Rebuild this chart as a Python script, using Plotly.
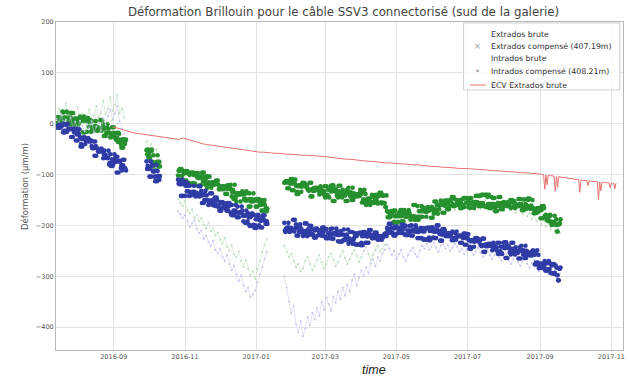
import pandas as pd
import plotly.graph_objects as go

# Start date of each acquisition period
period_starts = ["2016-07-14", "2016-09-29", "2016-10-26", "2017-01-25", "2017-04-23"]

# Extrados compensé (407.19m): midnight readings, one per day, per period
ext_comp = [
    [0, 2, 12, 12, 6, 24, 22, 0, 12, 10,
     6, 4, 12, -1, 21, -2, 7, 10, 6, 1,
     14, 8, 7, 6, -17, 7, -16, 11, 4, -6,
     5, -14, -10, -7, -5, -14, -7, -11, -12, 7,
     -1, -10, -24, -7, -18, -18, -27, -19, -25, -7,
     -20, -32, -28, -18, -36, -40, -31, -47, -31, -34],
    [-52, -51, -60, -67, -54, -75, -62, -83, -86, -79, -84, -75],
    [-102, -93, -92, -89, -110, -98, -97, -112, -93, -116,
     -101, -118, -97, -96, -117, -121, -104, -97, -106, -107,
     -120, -103, -96, -113, -107, -126, -115, -104, -119, -116,
     -119, -120, -115, -116, -112, -129, -126, -129, -124, -123,
     -124, -123, -138, -128, -121, -120, -143, -130, -135, -148,
     -153, -138, -137, -139, -138, -133, -136, -139, -148, -151,
     -150, -137, -163, -148, -153, -152, -149, -150, -163, -148,
     -155, -160, -158, -171, -150, -167, -172],
    [-116, -114, -115, -113, -127, -118, -110, -109, -131, -117,
     -122, -134, -138, -123, -121, -124, -122, -116, -119, -121,
     -129, -132, -130, -116, -143, -127, -132, -130, -126, -127,
     -139, -123, -130, -134, -133, -145, -123, -140, -144, -130,
     -133, -133, -121, -152, -128, -141, -145, -133, -122, -138,
     -130, -137, -141, -137, -152, -126, -137, -135, -143, -150,
     -138, -142, -143, -139, -142, -130, -138, -133, -155, -149,
     -160, -154, -156, -147, -153, -140, -144, -156, -141, -151,
     -157, -142, -156, -136, -155, -141, -156, -164],
    [-172, -174, -184, -183, -177, -195, -193, -171, -182, -180,
     -176, -174, -182, -170, -192, -170, -179, -183, -179, -175,
     -189, -183, -182, -182, -160, -184, -162, -189, -183, -172,
     -183, -165, -168, -171, -173, -164, -171, -167, -166, -185,
     -177, -168, -153, -171, -160, -159, -151, -160, -155, -175,
     -162, -151, -157, -168, -151, -149, -158, -144, -162, -160,
     -156, -160, -154, -150, -166, -148, -164, -146, -146, -156,
     -154, -166, -146, -156, -158, -162, -142, -154, -156, -142,
     -162, -140, -156, -140, -162, -164, -144, -140, -158, -166,
     -158, -158, -146, -164, -172, -156, -162, -144, -156, -168,
     -154, -158, -156, -156, -162, -162, -166, -150, -154, -152,
     -158, -160, -160, -162, -148, -158, -167, -170, -149, -164,
     -161, -150, -147, -164, -167, -166, -169, -176, -175, -174,
     -166, -166, -170, -186, -162, -181, -179, -183, -189, -191,
     -181, -199, -195, -193, -197, -188, -212, -198, -196],
]

# Extrados compensé (407.19m): noon readings, one per day, per period
ext_comp_noon = [
    [12, 12, 6, 0, 2, 0, 12, 10, 24, 22,
     12, -1, 21, 6, 4, 10, 6, 1, -2, 7,
     7, 6, -17, 14, 8, 11, 4, -6, 7, -16,
     -10, -7, -5, 5, -14, -11, -12, 7, -14, -7,
     -24, -7, -18, -1, -10, -19, -25, -7, -18, -27,
     -28, -18, -36, -20, -32, -47, -31, -34, -40, -31],
    [-60, -67, -54, -52, -51, -83, -86, -79, -75, -62, -75, -84],
    [-92, -89, -110, -102, -93, -112, -93, -116, -98, -97,
     -97, -96, -117, -101, -118, -97, -106, -107, -121, -104,
     -96, -113, -107, -120, -103, -104, -119, -116, -126, -115,
     -115, -116, -112, -119, -120, -129, -124, -123, -129, -126,
     -138, -128, -121, -124, -123, -130, -135, -148, -120, -143,
     -137, -139, -138, -153, -138, -139, -148, -151, -133, -136,
     -163, -148, -153, -150, -137, -150, -163, -148, -152, -149,
     -158, -171, -150, -155, -160, -172, -167],
    [-115, -113, -127, -116, -114, -109, -131, -117, -118, -110,
     -138, -123, -121, -122, -134, -116, -119, -121, -124, -122,
     -130, -116, -143, -129, -132, -130, -126, -127, -127, -132,
     -130, -134, -133, -139, -123, -140, -144, -130, -145, -123,
     -121, -152, -128, -133, -133, -133, -122, -138, -141, -145,
     -141, -137, -152, -130, -137, -135, -143, -150, -126, -137,
     -143, -139, -142, -138, -142, -133, -155, -149, -130, -138,
     -156, -147, -153, -160, -154, -156, -141, -151, -140, -144,
     -156, -136, -155, -157, -142, -156, -164, -141],
    [-184, -183, -177, -172, -174, -171, -182, -180, -195, -193,
     -182, -170, -192, -176, -174, -183, -179, -175, -170, -179,
     -182, -182, -160, -189, -183, -189, -183, -172, -184, -162,
     -168, -171, -173, -183, -165, -167, -166, -185, -164, -171,
     -153, -171, -160, -177, -168, -160, -155, -175, -159, -151,
     -157, -168, -151, -162, -151, -144, -162, -160, -149, -158,
     -154, -150, -166, -156, -160, -146, -146, -156, -148, -164,
     -146, -156, -158, -154, -166, -154, -156, -142, -162, -142,
     -156, -140, -162, -162, -140, -140, -158, -166, -164, -144,
     -146, -164, -172, -158, -158, -144, -156, -168, -156, -162,
     -156, -156, -162, -154, -158, -150, -154, -152, -162, -166,
     -160, -162, -148, -158, -160, -170, -149, -164, -158, -167,
     -147, -164, -167, -161, -150, -176, -175, -174, -166, -169,
     -170, -186, -162, -166, -166, -183, -189, -191, -181, -179,
     -195, -193, -197, -181, -199, -212, -198, -196, -188],
]

# Intrados compensé (408.21m): midnight readings, one per day, per period
int_comp = [
    [-7, -4, -7, -8, -2, -3, 0, -17, -14, -16,
     -11, -10, -11, -10, -26, -17, -11, -10, -33, -21,
     -26, -40, -45, -30, -30, -33, -33, -28, -31, -35,
     -44, -48, -48, -35, -63, -49, -55, -54, -52, -54,
     -68, -53, -61, -67, -67, -80, -60, -77, -83, -70,
     -74, -75, -65, -96, -73, -87, -92, -82, -71, -89],
    [-74, -83, -89, -88, -104, -81, -93, -94, -104, -113, -103, -110],
    [-110, -117, -118, -119, -142, -119, -142, -115, -122, -133,
     -122, -141, -138, -135, -134, -143, -136, -141, -142, -123,
     -132, -141, -156, -139, -150, -151, -160, -151, -156, -137,
     -150, -161, -156, -145, -162, -165, -156, -171, -154, -157,
     -162, -159, -166, -171, -156, -175, -160, -179, -180, -171,
     -174, -163, -184, -175, -174, -171, -192, -181, -180, -195,
     -176, -199, -184, -201, -180, -179, -200, -205, -188, -181,
     -190, -191, -204, -187, -180, -197, -192],
    [-195, -213, -210, -206, -204, -212, -205, -209, -209, -189,
     -198, -206, -220, -202, -213, -213, -221, -211, -216, -196,
     -208, -219, -213, -201, -217, -220, -210, -224, -206, -209,
     -213, -209, -215, -220, -204, -222, -207, -225, -225, -215,
     -218, -206, -226, -216, -215, -211, -231, -219, -218, -232,
     -218, -208, -229, -219, -223, -236, -226, -231, -213, -230,
     -215, -237, -221, -238, -216, -214, -234, -239, -221, -213,
     -221, -222, -234, -216, -209, -225, -219, -225, -220, -214,
     -228, -224, -227, -227, -221, -221, -218, -216],
    [-205, -215, -209, -197, -214, -216, -206, -220, -202, -204,
     -208, -205, -211, -215, -199, -217, -201, -219, -219, -210,
     -212, -200, -220, -210, -208, -205, -225, -213, -211, -225,
     -205, -227, -212, -228, -206, -204, -224, -229, -211, -204,
     -212, -213, -225, -208, -200, -217, -211, -230, -218, -207,
     -221, -218, -220, -221, -215, -216, -212, -229, -225, -228,
     -222, -221, -221, -220, -234, -225, -217, -216, -238, -225,
     -229, -242, -246, -231, -229, -232, -230, -225, -227, -230,
     -238, -241, -239, -226, -252, -237, -241, -240, -236, -237,
     -249, -234, -240, -245, -243, -256, -234, -251, -255, -242,
     -244, -245, -233, -264, -240, -253, -257, -246, -234, -251,
     -243, -250, -254, -251, -265, -240, -250, -249, -257, -264,
     -252, -257, -258, -256, -259, -249, -258, -254, -277, -273,
     -284, -280, -283, -275, -282, -270, -275, -289, -274, -286,
     -293, -279, -294, -276, -295, -283, -298, -308, -285],
]

# Intrados compensé (408.21m): noon readings, one per day, per period
int_comp_noon = [
    [-7, -8, -2, -7, -4, -17, -14, -16, -3, 0,
     -11, -10, -26, -11, -10, -10, -33, -21, -17, -11,
     -45, -30, -30, -26, -40, -28, -31, -35, -33, -33,
     -48, -35, -63, -44, -48, -54, -52, -54, -49, -55,
     -61, -67, -67, -68, -53, -77, -83, -70, -80, -60,
     -65, -96, -73, -74, -75, -82, -71, -89, -87, -92],
    [-89, -88, -104, -74, -83, -94, -104, -113, -81, -93, -110, -103],
    [-118, -119, -142, -110, -117, -115, -122, -133, -119, -142,
     -138, -135, -134, -122, -141, -141, -142, -123, -143, -136,
     -156, -139, -150, -132, -141, -151, -156, -137, -151, -160,
     -156, -145, -162, -150, -161, -171, -154, -157, -165, -156,
     -166, -171, -156, -162, -159, -179, -180, -171, -175, -160,
     -184, -175, -174, -174, -163, -181, -180, -195, -171, -192,
     -184, -201, -180, -176, -199, -205, -188, -181, -179, -200,
     -204, -187, -180, -190, -191, -192, -197],
    [-210, -206, -204, -195, -213, -209, -209, -189, -212, -205,
     -220, -202, -213, -198, -206, -211, -216, -196, -213, -221,
     -213, -201, -217, -208, -219, -224, -206, -209, -220, -210,
     -215, -220, -204, -213, -209, -225, -225, -215, -222, -207,
     -226, -216, -215, -218, -206, -219, -218, -232, -211, -231,
     -229, -219, -223, -218, -208, -231, -213, -230, -236, -226,
     -221, -238, -216, -215, -237, -239, -221, -213, -214, -234,
     -234, -216, -209, -221, -222, -225, -220, -214, -225, -219,
     -227, -227, -221, -228, -224, -218, -216, -221],
    [-209, -197, -214, -205, -215, -220, -202, -204, -216, -206,
     -211, -215, -199, -208, -205, -219, -219, -210, -217, -201,
     -220, -210, -208, -212, -200, -213, -211, -225, -205, -225,
     -212, -228, -206, -205, -227, -229, -211, -204, -204, -224,
     -225, -208, -200, -212, -213, -230, -218, -207, -217, -211,
     -220, -221, -215, -221, -218, -229, -225, -228, -216, -212,
     -221, -220, -234, -222, -221, -216, -238, -225, -225, -217,
     -246, -231, -229, -229, -242, -225, -227, -230, -232, -230,
     -239, -226, -252, -238, -241, -240, -236, -237, -237, -241,
     -240, -245, -243, -249, -234, -251, -255, -242, -256, -234,
     -233, -264, -240, -244, -245, -246, -234, -251, -253, -257,
     -254, -251, -265, -243, -250, -249, -257, -264, -240, -250,
     -258, -256, -259, -252, -257, -254, -277, -273, -249, -258,
     -283, -275, -282, -284, -280, -289, -274, -286, -270, -275,
     -294, -276, -295, -293, -279, -298, -308, -285, -283],
]

# Extrados brute, one value every 2 days, per period
ext_raw = [
    [15, 30, 8, 22, 40, 12, 25, 5, 18, 32, 10, 20, 0, 14, 28,
     6, 16, 35, 12, 22, 45, 18, 30, 52, 25, 38, 57, 20, 30, 12],
    [-35, -48, -40, -55, -50, -62],
    [-148, -156, -162, -152, -170, -176, -168, -185, -180, -192,
     -186, -198, -206, -194, -212, -205, -220, -214, -228, -236,
     -225, -242, -250, -238, -256, -262, -251, -270, -282, -268,
     -285, -298, -290, -305, -286, -270, -252, -238, -226],
    [-240, -252, -262, -255, -270, -282, -276, -290, -284, -270,
     -262, -276, -288, -280, -268, -258, -272, -284, -276, -262,
     -255, -268, -280, -272, -260, -250, -264, -276, -266, -255,
     -248, -260, -272, -262, -250, -242, -256, -268, -258, -248,
     -240, -252, -246, -238],
    [-200, -188, -210, -195, -182, -205, -190, -178, -198, -185,
     -175, -192, -180, -170, -188, -176, -165, -182, -172, -160,
     -178, -168, -158, -175, -165, -155, -172, -162, -152, -170,
     -160, -150, -168, -158, -148, -165, -155, -145, -162, -152,
     -168, -158, -150, -165, -155, -170, -160, -152, -168, -158,
     -172, -162, -155, -170, -160, -175, -165, -158, -178, -168,
     -182, -175, -188, -180, -192, -185, -198, -190, -202, -196,
     -208, -200, -212, -205, -215],
]

# Intrados brute, one value every 2 days, per period
int_raw = [
    [10, 2, 18, -5, 8, 0, 12, -8, 4, -12, 6, -4, -15, 0, -10,
     5, -18, -6, 2, -14, 10, -2, 15, 28, 8, 20, 35, 5, -10, -20],
    [-70, -82, -75, -90, -85, -98],
    [-172, -178, -185, -180, -192, -203, -196, -190, -207, -215,
     -210, -226, -220, -232, -241, -230, -248, -255, -246, -262,
     -270, -258, -276, -288, -279, -296, -310, -298, -318, -330,
     -322, -341, -336, -328, -312, -296, -282, -266, -252],
    [-300, -322, -350, -372, -358, -395, -410, -388, -418, -402,
     -380, -396, -372, -385, -362, -378, -350, -366, -342, -355,
     -368, -340, -352, -330, -345, -322, -338, -316, -330, -308,
     -296, -318, -302, -288, -300, -282, -294, -275, -266, -280,
     -262, -270, -255, -248],
    [-238, -246, -258, -250, -266, -256, -248, -262, -270, -258,
     -250, -244, -256, -262, -250, -240, -246, -236, -248, -242,
     -234, -244, -252, -240, -236, -246, -238, -250, -244, -236,
     -242, -252, -246, -256, -248, -240, -250, -258, -252, -244,
     -254, -262, -256, -248, -258, -266, -258, -252, -262, -270,
     -262, -256, -268, -276, -266, -260, -272, -280, -270, -264,
     -276, -284, -274, -268, -280, -290, -282, -276, -288, -296,
     -286, -280, -292, -300, -294],
]

# ECV Extrados brute: every 3 days from 2016-08-31, then daily from 2017-09-01
ecv_start_a = "2016-08-31"
ecv_vals_a = [
    -6, -8, -10, -13, -15, -16, -18, -19, -20, -21, -22, -23, -24, -25, -26,
    -27, -28, -29, -30, -31, -28, -30, -33, -35, -37, -38, -40, -41, -42, -43,
    -44, -46, -47, -48, -49, -50, -51, -52, -53, -54, -55, -55, -56, -56, -57,
    -57, -58, -58, -59, -59, -60, -60, -61, -61, -62, -62, -62, -63, -63, -64,
    -64, -65, -66, -67, -67, -68, -69, -70, -70, -71, -72, -72, -73, -74, -74,
    -75, -76, -76, -77, -77, -78, -78, -79, -79, -80, -80, -81, -81, -82, -82,
    -83, -84, -84, -85, -85, -86, -86, -87, -87, -88, -88, -88, -89, -89, -90,
    -90, -91, -91, -92, -92, -93, -93, -94, -94, -95, -95, -96, -96, -97, -97,
    -98, -98, -99,
]
ecv_start_b = "2017-09-01"
ecv_vals_b = [
    -99, -99, -100, -100, -129, -101, -120, -101, -102, -102, -102, -103, -103,
    -133, -104, -125, -104, -105, -105, -105, -106, -106, -106, -107, -107, -107,
    -108, -108, -108, -109, -109, -109, -110, -110, -135, -110, -111, -111, -111,
    -112, -112, -122, -112, -113, -113, -113, -114, -114, -114, -114, -149, -115,
    -132, -115, -115, -116, -116, -116, -116, -116, -126, -117, -117, -117, -128,
    -117,
]

y_ticks = [-400, -300, -200, -100, 0, 100, 200]

legend_labels = [
    "Extrados brute",
    "Extrados compensé (407.19m)",
    "Intrados brute",
    "Intrados compensé (408.21m)",
    "ECV Extrados brute",
]

GREEN = "#26902f"
BLUE = "#2f3ca6"
GREEN_FAINT = "#bcdcbc"
BLUE_FAINT = "#c4c4ec"
RED = "#e8706f"


def stitch(periods, freq, offset="0h", gaps=False):
    xs, ys = [], []
    for start, vals in zip(period_starts, periods):
        first = pd.Timestamp(start) + pd.Timedelta(offset)
        xs.extend(pd.date_range(first, periods=len(vals), freq=freq))
        ys.extend(vals)
        if gaps:
            xs.append(None)
            ys.append(None)
    return xs, ys


def twice_daily(midnight, noon):
    x0, y0 = stitch(midnight, "D")
    x1, y1 = stitch(noon, "D", offset="12h")
    return x0 + x1, y0 + y1


ext_raw_x, ext_raw_y = stitch(ext_raw, "2D", gaps=True)
ext_comp_x, ext_comp_y = twice_daily(ext_comp, ext_comp_noon)
int_raw_x, int_raw_y = stitch(int_raw, "2D", gaps=True)
int_comp_x, int_comp_y = twice_daily(int_comp, int_comp_noon)
ecv_x = list(pd.date_range(ecv_start_a, periods=len(ecv_vals_a), freq="3D")) + \
    list(pd.date_range(ecv_start_b, periods=len(ecv_vals_b), freq="D"))
ecv_y = ecv_vals_a + ecv_vals_b

fig = go.Figure()
fig.add_trace(go.Scatter(
    x=ext_raw_x, y=ext_raw_y, mode="lines+markers", name=legend_labels[0],
    line=dict(color=GREEN_FAINT, width=0.5),
    marker=dict(size=2, color=GREEN_FAINT, line=dict(width=0)),
))
fig.add_trace(go.Scatter(
    x=ext_comp_x, y=ext_comp_y, mode="markers", name=legend_labels[1],
    marker=dict(size=4.6, symbol="circle", color=GREEN, line=dict(width=0)),
))
fig.add_trace(go.Scatter(
    x=int_raw_x, y=int_raw_y, mode="lines+markers", name=legend_labels[2],
    line=dict(color=BLUE_FAINT, width=0.5),
    marker=dict(size=2, color=BLUE_FAINT, line=dict(width=0)),
))
fig.add_trace(go.Scatter(
    x=int_comp_x, y=int_comp_y, mode="markers", name=legend_labels[3],
    marker=dict(size=4.6, symbol="circle", color=BLUE, line=dict(width=0)),
))
fig.add_trace(go.Scatter(
    x=ecv_x, y=ecv_y, mode="lines", name=legend_labels[4],
    line=dict(color=RED, width=1),
))

axis_common = dict(
    showgrid=True, gridcolor="#e3e3e3", gridwidth=1,
    showline=True, linecolor="#b8b8b8", linewidth=1, mirror=True,
    zeroline=False, ticks="", tickfont=dict(family="DejaVu Sans", size=6.5, color="#555"),
)

# Compact legend box drawn in paper coordinates
leg_x0, leg_x1, leg_y0, leg_y1 = 0.7188, 0.9947, 0.793, 0.997
row_y = [0.9634, 0.9268, 0.8872, 0.8476, 0.8079]
text_x = 0.7645
key_x = 0.7434
key_glyphs = ["", "×", "", "•", ""]

shapes = [
    dict(type="rect", xref="paper", yref="paper", x0=leg_x0, x1=leg_x1, y0=leg_y0, y1=leg_y1,
         line=dict(color="#cfcfcf", width=1), fillcolor="rgba(255,255,255,0.85)", layer="above"),
    dict(type="line", xref="paper", yref="paper", x0=0.7300, x1=0.7580, y0=row_y[4], y1=row_y[4],
         line=dict(color=RED, width=1), layer="above"),
]
annotations = []
for label, glyph, yy in zip(legend_labels, key_glyphs, row_y):
    annotations.append(dict(
        text=label, xref="paper", yref="paper", x=text_x, y=yy, xanchor="left", yanchor="middle",
        showarrow=False, font=dict(family="DejaVu Sans", size=7.8, color="#333"),
    ))
    if glyph:
        annotations.append(dict(
            text=glyph, xref="paper", yref="paper", x=key_x, y=yy, xanchor="center", yanchor="middle",
            showarrow=False, font=dict(family="DejaVu Sans", size=8, color="#9a9a9a"),
        ))

annotations.append(dict(
    text="<i>time</i>", xref="paper", yref="paper", x=0.5606, y=-0.062, xanchor="center",
    yanchor="middle", showarrow=False, font=dict(family="Liberation Sans", size=12.5, color="#222"),
))
annotations.append(dict(
    text="Déformation (µm/m)", xref="paper", yref="paper", x=-0.0545, y=0.497, xanchor="center",
    yanchor="middle", textangle=-90, showarrow=False,
    font=dict(family="DejaVu Sans", size=8.5, color="#555"),
))

fig.update_layout(
    width=628, height=381,
    margin=dict(l=56, r=3, t=22, b=31),
    paper_bgcolor="white", plot_bgcolor="white",
    showlegend=False,
    title=dict(
        text="Déformation Brillouin pour le câble SSV3 connectorisé (sud de la galerie)",
        x=0.547, xanchor="center", y=0.968, yanchor="middle",
        font=dict(family="DejaVu Sans", size=11.8, color="#444"),
    ),
    xaxis=dict(
        **axis_common,
        range=["2016-07-13 12:00", "2017-11-11"],
        tick0="2016-09-01", dtick="M2", tickformat="%Y-%m",
    ),
    yaxis=dict(
        **axis_common,
        range=[-445, 200], tickvals=y_ticks,
    ),
    shapes=shapes,
    annotations=annotations,
)

fig.write_html("out.html")
